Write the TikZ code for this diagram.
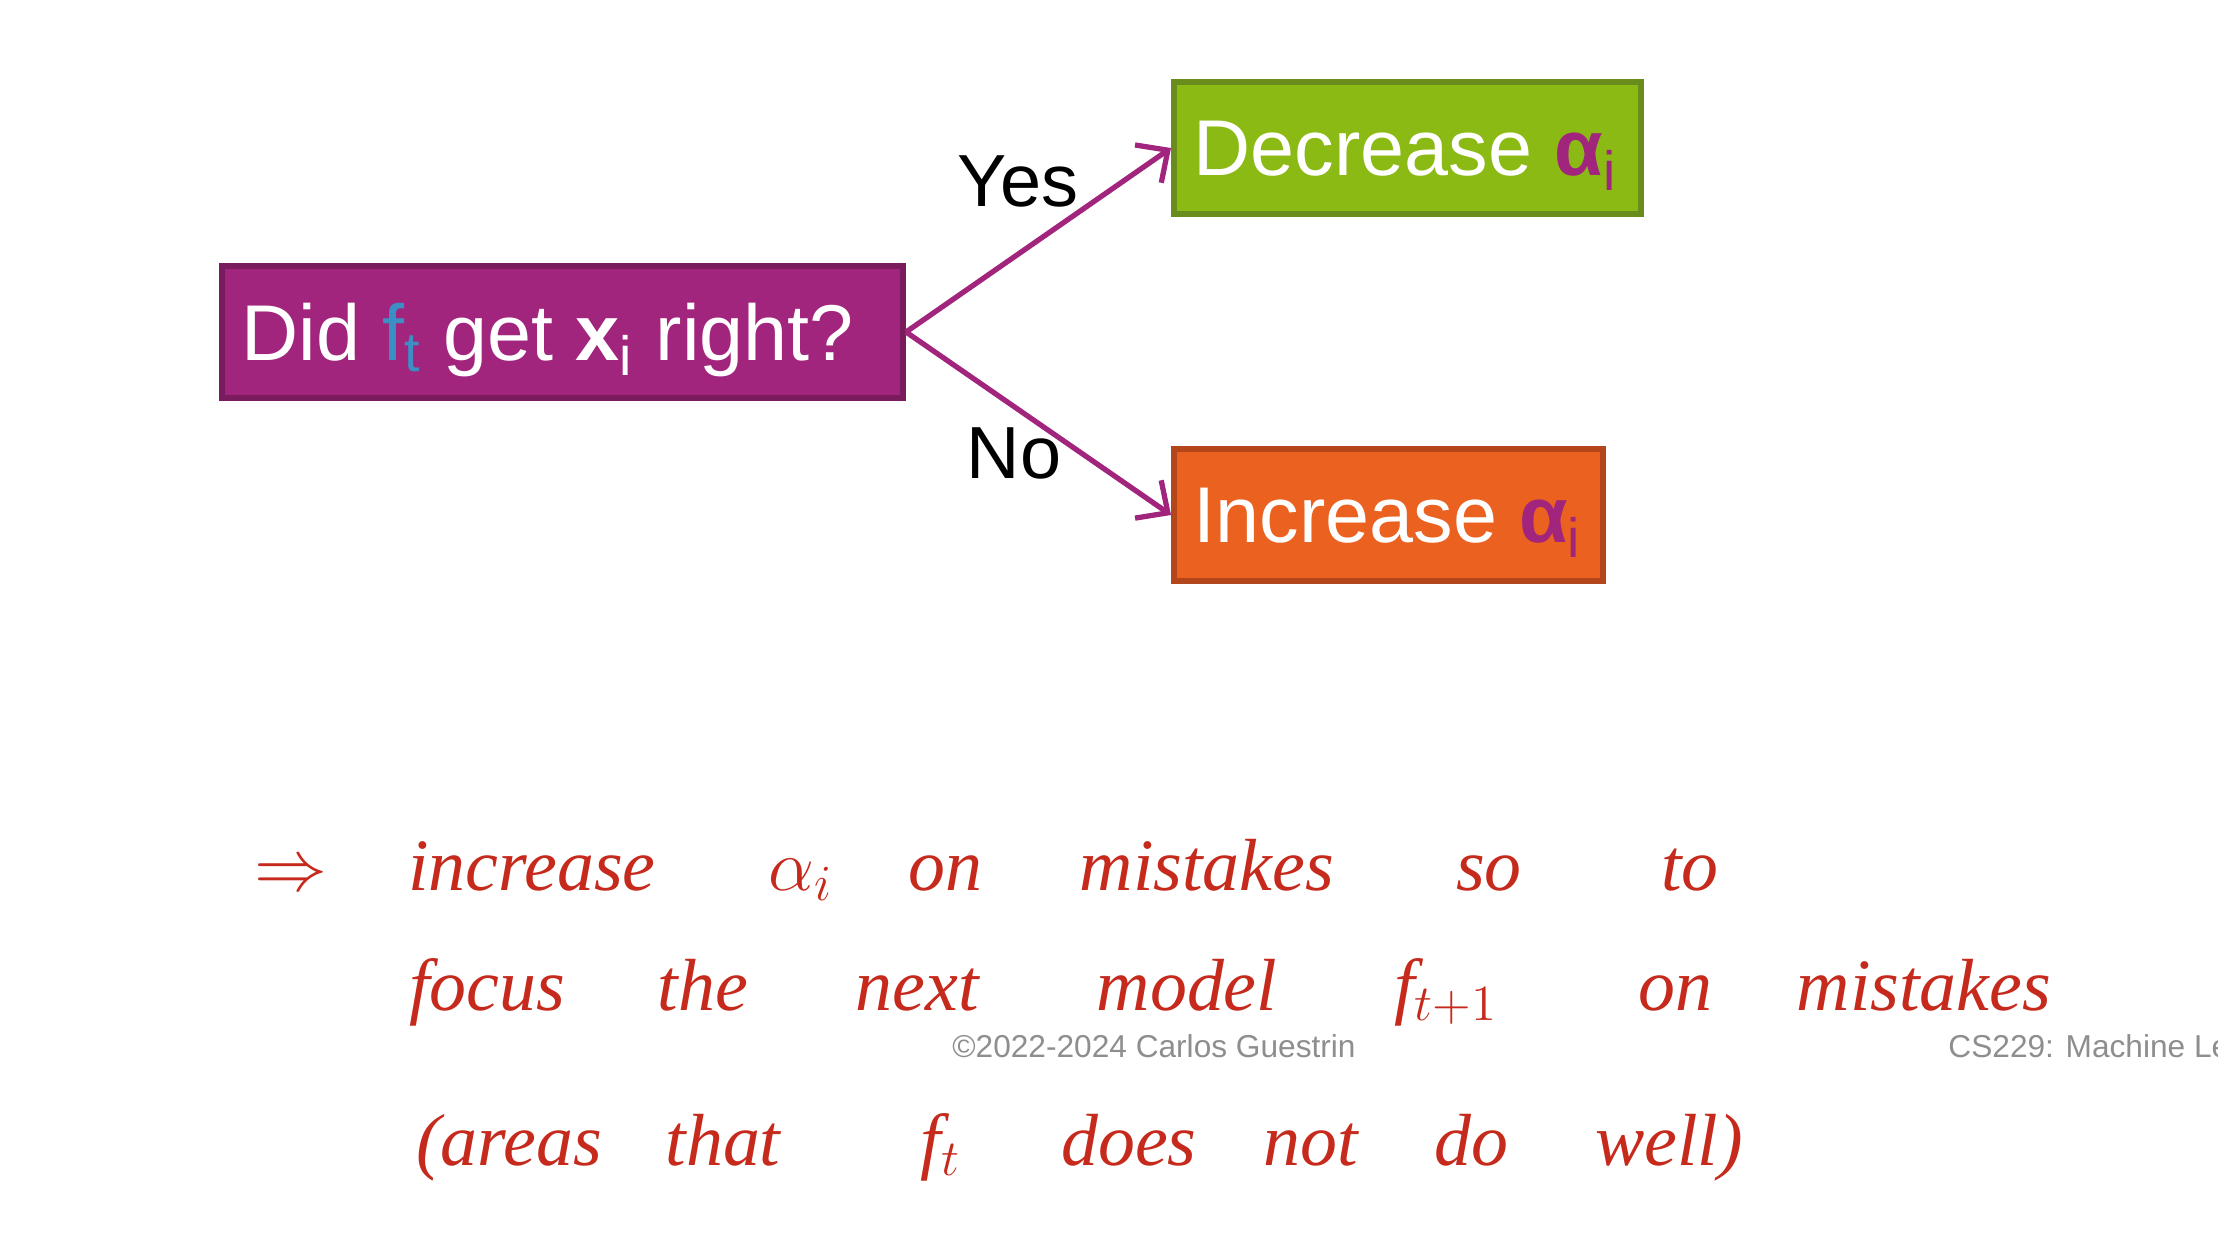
\documentclass[tikz,border=0pt]{standalone}
\usepackage{fontspec}
\setmainfont{Liberation Sans}
\newfontfamily\handfont{Liberation Serif}
\usetikzlibrary{arrows.meta}
\definecolor{qpurple}{HTML}{A2257D}
\definecolor{qpurpledark}{HTML}{7A1B5E}
\definecolor{qgreen}{HTML}{8CBA14}
\definecolor{qgreendark}{HTML}{6A8C1C}
\definecolor{qorange}{HTML}{EB6120}
\definecolor{qorangedark}{HTML}{B4461C}
\definecolor{qblue}{HTML}{3B8FC4}
\definecolor{ink}{HTML}{C52A1C}
\definecolor{footgray}{HTML}{8E8E8E}
\newcommand{\boxtext}[2]{\makebox[#1][l]{#2}}

\begin{document}
\begin{tikzpicture}[x=0.01cm,y=-0.01cm,>={Straight Barb[length=2.4mm,width=4.6mm]},
  box/.style={draw,line width=1.6pt,anchor=west,minimum height=1.32cm,inner xsep=0.2cm,
    text depth=0pt,text=white,font=\fontsize{22.5}{26}\selectfont},
  branch/.style={font=\fontsize{21}{25}\selectfont},
  hand/.style={anchor=base,text=ink,font=\handfont\itshape\fontsize{21}{25}\selectfont},
  note/.style={anchor=base,text=footgray,font=\fontsize{9}{11}\selectfont}]
  \useasboundingbox (0,0) rectangle (2218,1254);
  \clip (0,0) rectangle (2218,1254);

  % decision and outcomes
  \node[box,fill=qpurple,draw=qpurpledark] (did) at (219,332)
    {\boxtext{6.41cm}{Did \textcolor{qblue}{f\textsubscript{t}} get \textbf{x}\textsubscript{i} right?}};
  \node[box,fill=qgreen,draw=qgreendark] (dec) at (1171,148)
    {\boxtext{4.27cm}{Decrease \textcolor{qpurple}{\textbf{α}\textsubscript{i}}}};
  \node[box,fill=qorange,draw=qorangedark] (inc) at (1171,515)
    {\boxtext{3.89cm}{Increase \textcolor{qpurple}{\textbf{α}\textsubscript{i}}}};
  \draw[->,qpurple,line width=1.5pt] (did.east) -- (dec.west);
  \draw[->,qpurple,line width=1.5pt] (did.east) -- (inc.west);
  \node[branch] (yes) at (1018,181) {Yes};
  \node[branch] (no) at (1014,453) {No};

  % slide footer
  \node[note] (copy) at (1154,1057) {©2022-2024 Carlos Guestrin};
  \node[note,anchor=base west] (course) at (1936,1057) {CS229: Machine Learning};

  % handwritten notes
  \foreach \x/\w [count=\k] in {291/{$\Rightarrow$},532/increase,801/{$\alpha_i$},945/on,
      1207/mistakes,1489/so,1690/to}
    \node[hand] (la\k) at (\x,890) {\w};
  \foreach \x/\w [count=\k] in {487/focus,703/the,917/next,1187/model,1446/{f$_{t+1}$},
      1675/on,1924/mistakes}
    \node[hand] (lb\k) at (\x,1010) {\w};
  \foreach \x/\w [count=\k] in {509/(areas,723/that,941/{f$_t$},1129/does,1311/not,
      1471/do,1669/well)}
    \node[hand] (lc\k) at (\x,1165) {\w};
\end{tikzpicture}
\end{document}
